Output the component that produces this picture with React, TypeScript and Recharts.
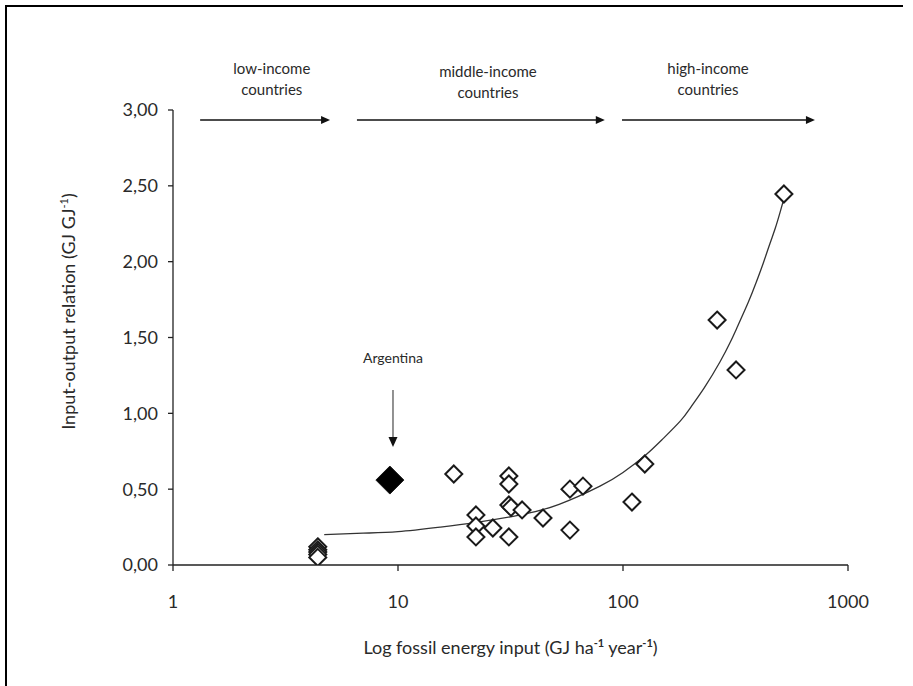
import React from 'react';
import {
  ComposedChart,
  XAxis,
  YAxis,
  Scatter,
  Line,
  ReferenceLine,
  ReferenceDot,
} from 'recharts';

// ---- data ----
const countryX = [
  4.4, 4.4, 4.4, 4.4, 4.4,
  17.7, 31.1, 31.1, 31.1, 31.8, 35.6, 44.1, 22.2, 22.2, 22.2, 26.4, 31.1,
  58.1, 66.4, 58.1, 109.6, 125, 262, 318, 519,
];
const countryY = [
  0.12, 0.1, 0.085, 0.07, 0.05,
  0.6, 0.587, 0.534, 0.396, 0.38, 0.363, 0.31, 0.33, 0.257, 0.185, 0.244, 0.185,
  0.5, 0.52, 0.23, 0.415, 0.666, 1.615, 1.286, 2.446,
];
const argentinaX = [9.2];
const argentinaY = [0.56];

const trendX = [4.7, 7, 10, 15.4, 22, 35, 52, 79, 100, 125, 150, 180, 200, 230, 270, 300, 320, 360, 390, 420, 450, 475, 500, 520];
const trendY = [0.2, 0.21, 0.22, 0.25, 0.28, 0.33, 0.40, 0.52, 0.61, 0.72, 0.83, 0.95, 1.04, 1.17, 1.34, 1.47, 1.56, 1.73, 1.86, 1.99, 2.12, 2.22, 2.33, 2.42];

const xTicks = [1, 10, 100, 1000];
const yTicks = [0, 0.5, 1, 1.5, 2, 2.5, 3];

const incomeLabels = [
  { line1: 'low-income', line2: 'countries', x: 2.75, y: 3.21 },
  { line1: 'middle-income', line2: 'countries', x: 25.1, y: 3.19 },
  { line1: 'high-income', line2: 'countries', x: 238.7, y: 3.21 },
];
const incomeArrows = [
  { from: 1.32, to: 4.99 },
  { from: 6.57, to: 83 },
  { from: 99, to: 713 },
];
const arrowY = 2.934;
const argentinaArrow = { x: 9.5, from: 1.154, to: 0.778 };
const argentinaLabel = { text: 'Argentina', x: 9.5, y: 1.365 };

const countries = countryX.map((x, i) => ({ x, y: countryY[i] }));
const argentina = argentinaX.map((x, i) => ({ x, y: argentinaY[i] }));
const trend = trendX.map((x, i) => ({ x, y: trendY[i] }));

const FONT = 'Lato, "Open Sans", sans-serif';
const TEXT = '#2a2a2a';

const Diamond = (half: number, fill: string) => (props: any) => {
  const { cx, cy } = props;
  if (cx == null || cy == null) return null;
  return (
    <path
      d={`M${cx},${cy - half}L${cx + half},${cy}L${cx},${cy + half}L${cx - half},${cy}Z`}
      fill={fill}
      stroke="#1a1a1a"
      strokeWidth={fill === '#fff' ? 2 : 1}
    />
  );
};

const HArrow = (props: any) => {
  const { x1, y1, x2, y2 } = props;
  return (
    <g>
      <line x1={x1} y1={y1} x2={x2 - 6} y2={y2} stroke="#111" strokeWidth={1.6} />
      <polygon points={`${x2},${y2} ${x2 - 9},${y2 - 4} ${x2 - 9},${y2 + 4}`} fill="#111" />
    </g>
  );
};

const VArrow = (props: any) => {
  const { x1, y1, x2, y2 } = props;
  return (
    <g>
      <line x1={x1} y1={y1} x2={x2} y2={y2 - 8} stroke="#777" strokeWidth={1.6} />
      <polygon points={`${x2},${y2} ${x2 - 4.5},${y2 - 10} ${x2 + 4.5},${y2 - 10}`} fill="#111" />
    </g>
  );
};

const xTitle = (props: any) => {
  const vb = props.viewBox;
  const cx = vb.x + vb.width / 2;
  return (
    <text x={cx} y={vb.y + 89} textAnchor="middle" fontFamily={FONT} fontSize={18} fill={TEXT}>
      Log fossil energy input (GJ ha
      <tspan dy={-7} fontSize={11} fontWeight="bold">-1</tspan>
      <tspan dy={7}> year</tspan>
      <tspan dy={-7} fontSize={11} fontWeight="bold">-1</tspan>
      <tspan dy={7}>)</tspan>
    </text>
  );
};

const yTitle = (props: any) => {
  const vb = props.viewBox;
  const x = vb.x - 38;
  const y = vb.y + vb.height / 2 - 26;
  return (
    <text
      x={x}
      y={y}
      textAnchor="middle"
      transform={`rotate(-90, ${x}, ${y})`}
      fontFamily={FONT}
      fontSize={18}
      fill={TEXT}
    >
      Input-output relation (GJ GJ
      <tspan dy={-7} fontSize={11}>-1</tspan>
      <tspan dy={7}>)</tspan>
    </text>
  );
};

const fmt = (v: number) => v.toFixed(2).replace('.', ',');

export default function App() {
  return (
    <div style={{ position: 'absolute', left: 0, top: 0, width: 913, height: 686, background: '#fff' }}>
      <div style={{ position: 'absolute', left: 0, top: 0 }}>
        <ComposedChart
          width={913}
          height={686}
          margin={{ top: 110, right: 65, bottom: 91, left: 113 }}
        >
          <XAxis
            dataKey="x"
            type="number"
            scale="log"
            domain={[1, 1000]}
            ticks={xTicks}
            allowDataOverflow
            height={30}
            tickSize={6}
            tickMargin={24}
            stroke="#222"
            strokeWidth={1.3}
            tick={{ fontSize: 18, fill: TEXT, fontFamily: FONT }}
            tickFormatter={(v: number) => String(v)}
            label={{ content: xTitle }}
          />
          <YAxis
            dataKey="y"
            type="number"
            domain={[0, 3]}
            ticks={yTicks}
            allowDataOverflow
            width={60}
            tickSize={5}
            tickMargin={10}
            stroke="#222"
            strokeWidth={1.3}
            tick={{ fontSize: 18, fill: TEXT, fontFamily: FONT }}
            tickFormatter={fmt}
            label={{ content: yTitle }}
          />
          {incomeArrows.map((a, i) => (
            <ReferenceLine
              key={`ia${i}`}
              segment={[{ x: a.from, y: arrowY }, { x: a.to, y: arrowY }]}
              shape={HArrow}
              ifOverflow="visible"
            />
          ))}
          {incomeLabels.map((l, i) => (
            <ReferenceDot
              key={`il${i}`}
              x={l.x}
              y={l.y}
              ifOverflow="visible"
              shape={(p: any) => (
                <text textAnchor="middle" fontFamily={FONT} fontSize={15} fill={TEXT}>
                  <tspan x={p.cx} y={p.cy - 4}>{l.line1}</tspan>
                  <tspan x={p.cx} y={p.cy + 17}>{l.line2}</tspan>
                </text>
              )}
            />
          ))}
          <ReferenceLine
            segment={[{ x: argentinaArrow.x, y: argentinaArrow.from }, { x: argentinaArrow.x, y: argentinaArrow.to }]}
            shape={VArrow}
            ifOverflow="visible"
          />
          <ReferenceDot
            x={argentinaLabel.x}
            y={argentinaLabel.y}
            ifOverflow="visible"
            shape={(p: any) => (
              <text x={p.cx} y={p.cy + 5} textAnchor="middle" fontFamily={FONT} fontSize={14} fill={TEXT}>
                {argentinaLabel.text}
              </text>
            )}
          />
          <Line
            data={trend}
            dataKey="y"
            type="natural"
            stroke="#333"
            strokeWidth={1.3}
            dot={false}
            activeDot={false}
            isAnimationActive={false}
          />
          <Scatter data={countries} shape={Diamond(8.5, '#fff')} isAnimationActive={false} />
          <Scatter data={argentina} shape={Diamond(14, '#000')} isAnimationActive={false} />
        </ComposedChart>
      </div>
      <div style={{ position: 'absolute', left: 5, top: 5, width: 898, height: 2, background: '#000' }} />
      <div style={{ position: 'absolute', left: 5, top: 5, width: 2, height: 681, background: '#000' }} />
    </div>
  );
}
